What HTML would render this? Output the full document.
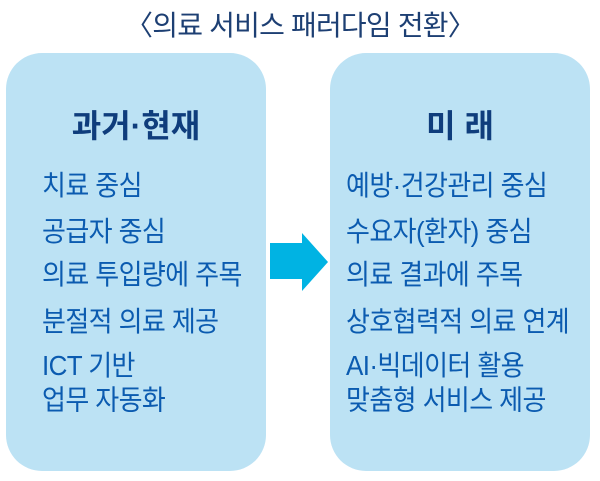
<!DOCTYPE html>
<html><head><meta charset="utf-8"><style>
body{margin:0;width:600px;height:481px;background:#fff;position:relative;overflow:hidden;font-family:"Liberation Sans","Noto Sans CJK KR",sans-serif;}
.t{position:absolute;left:0;width:600px;text-align:center;top:4px;font-size:28px;color:#1d3f73;letter-spacing:-0.8px}
.box{position:absolute;top:53px;height:418px;background:#bce2f4;border-radius:36px}
.h{position:absolute;width:100%;text-align:center;top:48px;font-size:32px;font-weight:bold;color:#0f3d7c}
.i{position:absolute;font-size:26px;color:#0b5bb0;line-height:30px;white-space:nowrap;letter-spacing:-0.6px;transform:scaleY(1.08);transform-origin:left top}
</style></head><body>
<div class="t">〈의료 서비스 패러다임 전환〉</div>
<div class="box" style="left:6px;width:260px"><div class="h">과거·현재</div>
<div class="i" style="left:36px;top:116px">치료 중심</div>
<div class="i" style="left:36px;top:162px">공급자 중심</div>
<div class="i" style="left:36px;top:205px">의료 투입량에 주목</div>
<div class="i" style="left:36px;top:252px">분절적 의료 제공</div>
<div class="i" style="left:36px;top:295px;line-height:32px">ICT 기반<br>업무 자동화</div>
</div>
<div class="box" style="left:330px;width:260px"><div class="h">미 래</div>
<div class="i" style="left:16px;top:116px">예방·건강관리 중심</div>
<div class="i" style="left:16px;top:162px">수요자(환자) 중심</div>
<div class="i" style="left:16px;top:205px">의료 결과에 주목</div>
<div class="i" style="left:16px;top:252px">상호협력적 의료 연계</div>
<div class="i" style="left:16px;top:295px;line-height:32px">AI·빅데이터 활용<br>맞춤형 서비스 제공</div>
</div>
<svg style="position:absolute;left:0;top:0" width="600" height="481"><polygon points="270,243 302,243 302,233 328,262 302,291 302,279 270,279" fill="#00b3e3"/></svg>
</body></html>
